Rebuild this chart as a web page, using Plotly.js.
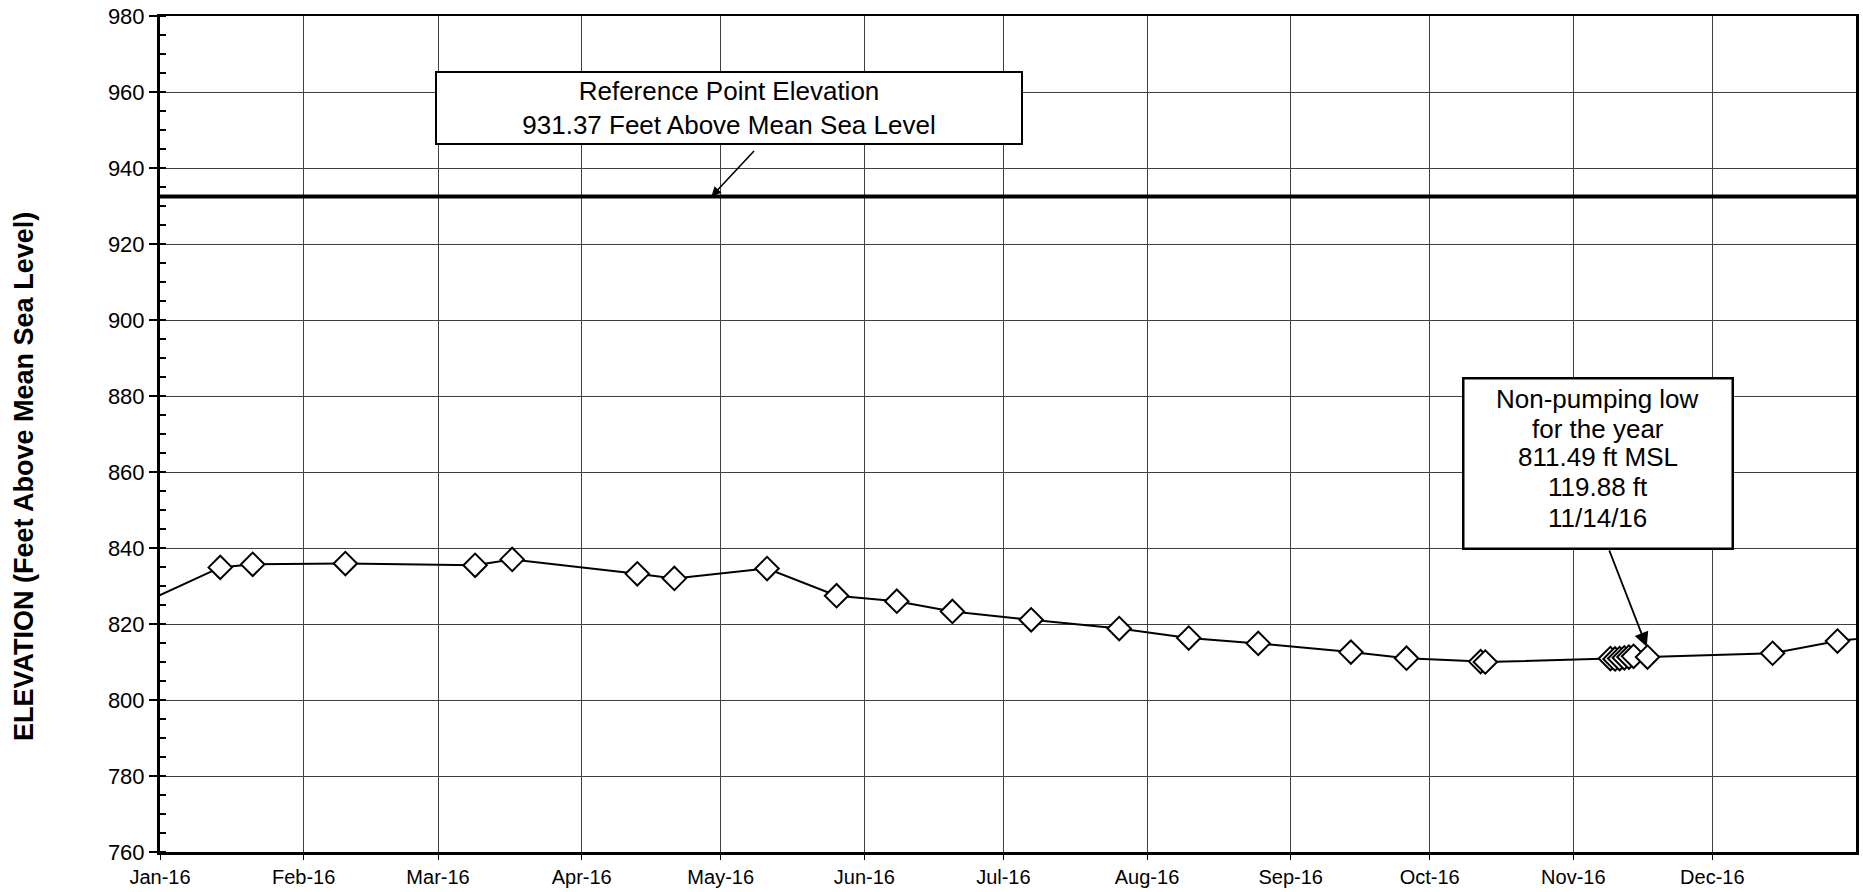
<!DOCTYPE html>
<html>
<head>
<meta charset="utf-8">
<script src="https://cdn.plot.ly/plotly-3.0.1.min.js"></script>
<style>html,body{margin:0;padding:0;background:#fff;}#chart{width:1863px;height:892px;}</style>
</head>
<body>
<div id="chart"></div>
<script>
// Measurement dates and groundwater elevations (ft MSL)
const sampleDates = ['2015-12-22','2016-01-14','2016-01-21','2016-02-10','2016-03-09','2016-03-17',
  '2016-04-13','2016-04-21','2016-05-11','2016-05-26','2016-06-08','2016-06-20','2016-07-07',
  '2016-07-26','2016-08-10','2016-08-25','2016-09-14','2016-09-26','2016-10-12','2016-10-13',
  '2016-11-09','2016-11-10','2016-11-11','2016-11-12','2016-11-13','2016-11-14','2016-11-17',
  '2016-12-14','2016-12-28','2017-01-10'];
const elevations = [822.0,834.9,835.7,835.9,835.45,837.0,
  833.2,832.0,834.6,827.45,826.0,823.3,821.1,
  818.8,816.3,814.9,812.6,811.0,810.1,810.0,
  810.9,810.8,810.9,811.1,811.3,811.49,811.3,
  812.3,815.5,817.3];
// Reference point elevation line
const refDates = ['2016-01-01','2017-01-01'];
const refElev = [932.5, 932.5];
// Axis ticks
const monthTicks = ['2016-01-01','2016-02-01','2016-03-01','2016-04-01','2016-05-01','2016-06-01',
  '2016-07-01','2016-08-01','2016-09-01','2016-10-01','2016-11-01','2016-12-01'];
const monthLabels = ['Jan-16','Feb-16','Mar-16','Apr-16','May-16','Jun-16',
  'Jul-16','Aug-16','Sep-16','Oct-16','Nov-16','Dec-16'];
// Texts
const yTitle = '<b>ELEVATION (Feet Above Mean Sea Level)</b>';
const refText = 'Reference Point Elevation<br>931.37 Feet Above Mean Sea Level';
const refArrowDate = '2016-04-29';
const lowLines = ['Non-pumping low', 'for the year', '811.49 ft MSL', '119.88 ft', '11/14/16'];
const lowArrowDate = '2016-11-16 20:00';
const lowArrowElev = 814.0;

const FONT = 'Liberation Sans, Arial, sans-serif';

const traces = [
  {x: refDates, y: refElev, mode: 'lines', type: 'scatter',
   line: {color: '#000', width: 4}, hoverinfo: 'skip', cliponaxis: true},
  {x: sampleDates, y: elevations, mode: 'lines+markers', type: 'scatter',
   line: {color: '#000', width: 2},
   marker: {symbol: 'diamond', size: 18, color: '#fff', line: {color: '#000', width: 2}},
   cliponaxis: true}
];

const lowLineY = [0.5419, 0.5060, 0.4725, 0.4366, 0.3995];

const annotations = [
  {xref: 'paper', yref: 'paper', x: -0.0802, y: 0.4498, xanchor: 'center', yanchor: 'middle',
   text: yTitle, textangle: -90, showarrow: false, font: {family: FONT, size: 27, color: '#000'}},
  {xref: 'paper', yref: 'paper', x: 0.3355, y: 0.8894, xanchor: 'center', yanchor: 'middle',
   text: refText, showarrow: false, font: {family: FONT, size: 26, color: '#000'},
   bgcolor: '#fff', bordercolor: '#000', borderwidth: 2, borderpad: 2, width: 580, height: 66},
  {x: refArrowDate, y: refElev[0], xref: 'x', yref: 'y', text: '', showarrow: true,
   ax: 44, ay: -47, arrowhead: 2, arrowsize: 1.2, arrowwidth: 1.6, arrowcolor: '#000', standoff: 0},
  {xref: 'paper', yref: 'paper', x: 0.8476, y: 0.4647, xanchor: 'center', yanchor: 'middle',
   text: ' ', showarrow: false, font: {family: FONT, size: 26, color: '#000'},
   bgcolor: '#fff', bordercolor: '#000', borderwidth: 2.5, borderpad: 0, width: 267, height: 168},
  {x: lowArrowDate, y: lowArrowElev, xref: 'x', yref: 'y', text: '', showarrow: true,
   ax: -38, ay: -98, arrowhead: 2, arrowsize: 1.6, arrowwidth: 1.8, arrowcolor: '#000', standoff: 0}
];
lowLines.forEach((t, i) => annotations.push({
  xref: 'paper', yref: 'paper', x: 0.8476, y: lowLineY[i], xanchor: 'center', yanchor: 'middle',
  text: t, showarrow: false, font: {family: FONT, size: 26, color: '#000'}
}));

const layout = {
  width: 1863, height: 892,
  margin: {l: 160, r: 7, t: 16, b: 40},
  paper_bgcolor: '#fff', plot_bgcolor: '#fff',
  showlegend: false,
  font: {family: FONT, color: '#000'},
  xaxis: {
    type: 'date', range: ['2016-01-01', '2017-01-01'],
    tickvals: monthTicks, ticktext: monthLabels,
    tickfont: {family: FONT, size: 20, color: '#000'},
    ticks: 'outside', ticklen: 5, tickcolor: '#000',
    showgrid: true, gridcolor: '#404040', gridwidth: 1,
    showline: true, linecolor: '#000', linewidth: 2.5, mirror: true,
    zeroline: false, fixedrange: true
  },
  yaxis: {
    range: [760, 980], dtick: 20, tick0: 760,
    tickfont: {family: FONT, size: 22, color: '#000'},
    ticks: 'outside', ticklen: 8, tickcolor: '#000', tickwidth: 1.5,
    minor: {dtick: 5, ticks: 'inside', ticklen: 6, tickcolor: '#000', tickwidth: 1.5, showgrid: false},
    showgrid: true, gridcolor: '#404040', gridwidth: 1,
    showline: true, linecolor: '#000', linewidth: 3, mirror: true,
    zeroline: false, fixedrange: true
  },
  annotations: annotations
};

Plotly.newPlot('chart', traces, layout, {staticPlot: true, displayModeBar: false});
</script>
</body>
</html>
